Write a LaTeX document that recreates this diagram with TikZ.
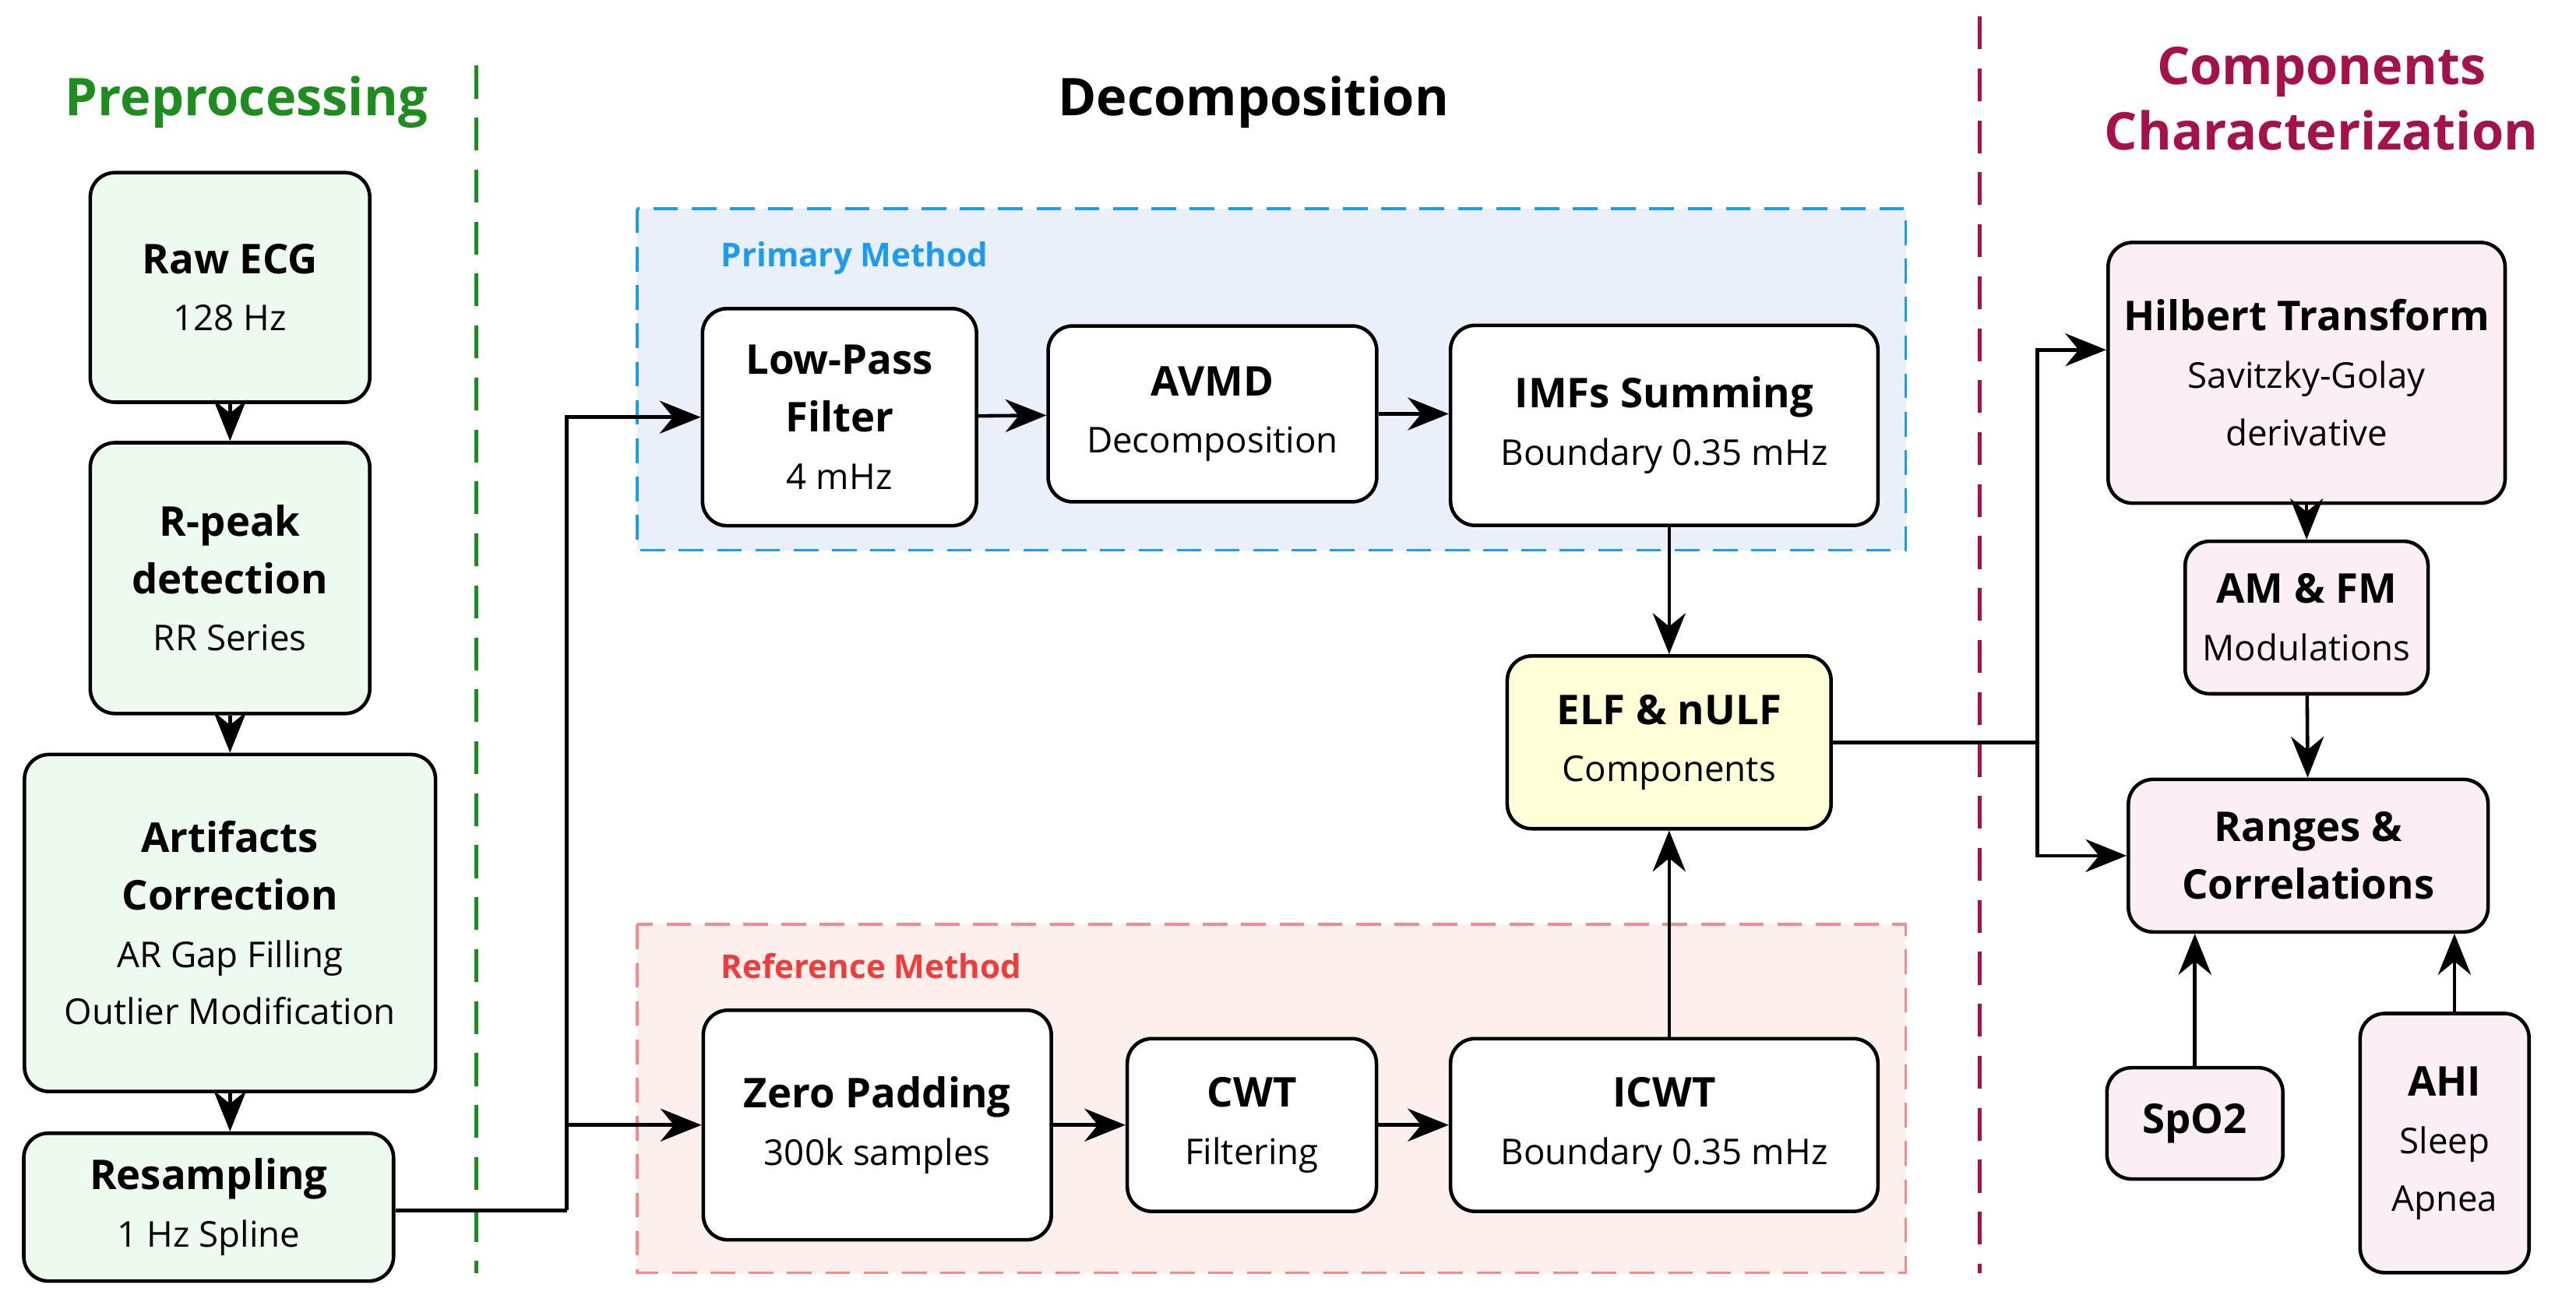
\documentclass[tikz,border=0pt]{standalone}
\usepackage{fontspec}
\setmainfont{Open Sans}
\usetikzlibrary{arrows.meta}
\definecolor{pgreen}{HTML}{1E8C1E}
\definecolor{maroon}{HTML}{A3124A}
\definecolor{gfill}{HTML}{EDFBEF}
\definecolor{pfill}{HTML}{FCEEF6}
\definecolor{yfill}{HTML}{FFFFD8}
\definecolor{bfill}{HTML}{EAF0FA}
\definecolor{bline}{HTML}{1E9BEF}
\definecolor{rfill}{HTML}{FDEFEC}
\definecolor{rline}{HTML}{F28C8C}
\definecolor{rtext}{HTML}{F03C3C}
\newcommand{\tb}[1]{{\bfseries\fontsize{15}{19}\selectfont #1}}
\begin{document}
\begin{tikzpicture}[x=0.0211cm,y=-0.0211cm,
  box/.style={draw=black,line width=1.3pt,rounded corners=9pt,align=center,inner sep=0pt,font=\fontsize{13}{21}\selectfont},
  arr/.style={-{Stealth[length=15pt,width=12pt]},line width=1.3pt},
  region/.style={dash pattern=on 9pt off 5pt,line width=1.1pt}]
\useasboundingbox (0,0) rectangle (1568,797);
% regions
\path[region,draw=bline,fill=bfill] (388,127) rectangle (1160,335);
\path[region,draw=rline,fill=rfill] (388,563) rectangle (1160,775);
\node[anchor=west,text=bline,font=\bfseries\fontsize{12}{14}\selectfont] (pm) at (433,157) {Primary Method};
\node[anchor=west,text=rtext,font=\bfseries\fontsize{12}{14}\selectfont] (rm) at (433,588) {Reference Method};
% dividers
\draw[pgreen,line width=1.3pt,dash pattern=on 12pt off 7pt] (290,40) -- (290,775);
\draw[maroon,line width=1.3pt,dash pattern=on 12pt off 7pt] (1205,10) -- (1205,775);
% headers
\node[text=pgreen,font=\bfseries\fontsize{19}{24}\selectfont] (h1) at (150,62) {Preprocessing};
\node[font=\bfseries\fontsize{19}{24}\selectfont] (h2) at (763,62) {Decomposition};
\node[text=maroon,align=center,font=\bfseries\fontsize{19}{24}\selectfont] (h3) at (1413,60) {Components\\Characterization};
% preprocessing
\node[box,fill=gfill,minimum width=3.59cm,minimum height=2.95cm] (raw) at (140,175) {\tb{Raw ECG}\\128 Hz};
\node[box,fill=gfill,minimum width=3.59cm,minimum height=3.48cm] (rpk) at (140,352) {\tb{R-peak}\\\tb{detection}\\RR Series};
\node[box,fill=gfill,minimum width=5.28cm,minimum height=4.33cm] (art) at (140,562) {\tb{Artifacts}\\\tb{Correction}\\AR Gap Filling\\Outlier Modification};
\node[box,fill=gfill,minimum width=4.75cm,minimum height=1.9cm] (res) at (127,735) {\tb{Resampling}\\1 Hz Spline};
% decomposition
\node[box,fill=white,minimum width=3.52cm,minimum height=2.79cm] (lp) at (511,254) {\tb{Low-Pass}\\\tb{Filter}\\4 mHz};
\node[box,fill=white,minimum width=4.22cm,minimum height=2.26cm] (avmd) at (738,252) {\tb{AVMD}\\Decomposition};
\node[box,fill=white,minimum width=5.49cm,minimum height=2.57cm] (imf) at (1013,259) {\tb{IMFs Summing}\\Boundary 0.35 mHz};
\node[box,fill=yfill,minimum width=4.16cm,minimum height=2.22cm] (elf) at (1016,452) {\tb{ELF \& nULF}\\Components};
\node[box,fill=white,minimum width=4.47cm,minimum height=2.95cm] (zp) at (534,685) {\tb{Zero Padding}\\300k samples};
\node[box,fill=white,minimum width=3.2cm,minimum height=2.22cm] (cwt) at (762,685) {\tb{CWT}\\Filtering};
\node[box,fill=white,minimum width=5.49cm,minimum height=2.22cm] (icwt) at (1013,685) {\tb{ICWT}\\Boundary 0.35 mHz};
% characterization
\node[box,fill=pfill,minimum width=5.1cm,minimum height=3.35cm] (hil) at (1404,227) {\tb{Hilbert Transform}\\Savitzky-Golay\\derivative};
\node[box,fill=pfill,minimum width=3.12cm,minimum height=1.96cm] (am) at (1404,376) {\tb{AM \& FM}\\Modulations};
\node[box,fill=pfill,minimum width=4.62cm,minimum height=1.96cm] (rng) at (1405,521) {\tb{Ranges \&}\\\tb{Correlations}};
\node[box,fill=pfill,minimum width=2.26cm,minimum height=1.43cm] (spo) at (1336,684) {\tb{SpO2}};
\node[box,fill=pfill,minimum width=2.17cm,minimum height=3.33cm] (ahi) at (1488,696) {\tb{AHI}\\Sleep\\Apnea};
% connectors
\coordinate (j1) at (345,737);
\coordinate (j2) at (1240,452);
\draw[arr] (raw) -- (rpk);
\draw[arr] (rpk) -- (art);
\draw[arr] (art.south) -- (art.south |- res.north);
\draw[line width=1.3pt] (res.east |- j1) -- (j1);
\draw[arr] (j1) |- (lp.west);
\draw[arr] (j1 |- zp.west) -- (zp.west);
\draw[arr] (lp) -- (avmd);
\draw[arr] (avmd) -- (avmd -| imf.west);
\draw[arr] (imf.south -| elf.north) -- (elf.north);
\draw[arr] (zp) -- (cwt);
\draw[arr] (cwt) -- (icwt);
\draw[arr] (icwt.north -| elf.south) -- (elf.south);
\draw[line width=1.3pt] (elf.east) -- (j2);
\draw[arr] (j2) |- (hil.west |- 0,213);
\draw[arr] (j2) |- (rng.west);
\draw[arr] (hil) -- (am);
\draw[arr] (am) -- (rng);
\draw[arr] (spo.north) -- (spo.north |- rng.south);
\draw[arr] (ahi.north -| 1494,0) -- (rng.south -| 1494,0);
\end{tikzpicture}
\end{document}
